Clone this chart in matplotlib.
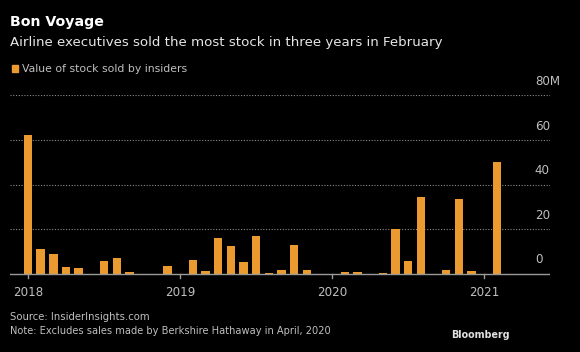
import numpy as np
import matplotlib.pyplot as plt

# Monthly value of stock sold by airline insiders, Jan 2018 - Mar 2021 ($M)
months = np.arange(39)
values = [62.3, 11.1, 8.7, 3.0, 2.7, -0.3, 5.9, 7.2, 0.9, 0.0, -0.3, 3.5,
          0.0, 6.2, 1.4, 15.9, 12.6, 5.4, 16.8, 0.5, 1.8, 13.0, 1.8, 0.0,
          0.0, 0.8, 0.8, -0.3, 0.4, 20.2, 5.9, 34.2, 0.0, 1.8, 33.7, 1.4,
          0.0, 50.2, -0.3]
year_ticks = [0, 12, 24, 36]
year_labels = ["2018", "2019", "2020", "2021"]
y_ticks = [0, 20, 40, 60, 80]
y_labels = ["0", "20", "40", "60", "80M"]

BG = "#000000"
ORANGE = "#eb9a30"
GRAY = "#bfbfbf"

W, H = 580, 352
fig = plt.figure(figsize=(W / 100, H / 100), dpi=100, facecolor=BG)

# axes placed by pixel box
x0, x1 = 10, 550
ytop, ybot = 95.3, 280.4
ax = fig.add_axes([x0 / W, 1 - ybot / H, (x1 - x0) / W, (ybot - ytop) / H])
ax.set_facecolor(BG)

ax.bar(months, values, width=0.66, color=ORANGE, zorder=3)

ax.set_xlim(-1.42, 41.2)
ax.set_ylim(-3, 80)

for y in y_ticks[1:]:
    ax.axhline(y, color="#8a8a8a", lw=0.8, ls=(0, (1, 1.5)), zorder=1)
ax.axhline(0, color="#9a9a9a", lw=1.0, zorder=4)

for y, lab in zip(y_ticks, y_labels):
    ax.text(41.2 - 1.2, y + 3.3, lab, color=GRAY, fontsize=8.6,
            ha="left", va="bottom")

for x, lab in zip(year_ticks, year_labels):
    ax.plot([x, x], [0, -2.0], color="#9a9a9a", lw=1.0, zorder=4,
            clip_on=False)
    ax.text(x, -5.5, lab, color=GRAY, fontsize=8.6, ha="center", va="top")

for s in ax.spines.values():
    s.set_visible(False)
ax.set_xticks([])
ax.set_yticks([])

# header
fig.text(10 / W, 1 - 26 / H, "Bon Voyage", color="white", fontsize=10.2,
         fontweight="bold", ha="left", va="baseline")
fig.text(10 / W, 1 - 46 / H,
         "Airline executives sold the most stock in three years in February",
         color="#e6e6e6", fontsize=9.6, ha="left", va="baseline")

# legend
fig.patches.append(plt.Rectangle((12 / W, 1 - 72 / H), 6 / W, 7 / H,
                                 transform=fig.transFigure, color=ORANGE))
fig.text(22 / W, 1 - 72 / H, "Value of stock sold by insiders",
         color=GRAY, fontsize=7.8, ha="left", va="baseline")

# footer
fig.text(10 / W, 1 - 320 / H, "Source: InsiderInsights.com", color=GRAY,
         fontsize=7.3, ha="left", va="baseline")
fig.text(10 / W, 1 - 334 / H,
         "Note: Excludes sales made by Berkshire Hathaway in April, 2020",
         color=GRAY, fontsize=7.1, ha="left", va="baseline")
fig.text(510 / W, 1 - 338 / H, "Bloomberg", color="#e0e0e0", fontsize=6.9,
         fontweight="bold", ha="right", va="baseline")

fig.savefig("out.png", dpi=100, facecolor=BG)
